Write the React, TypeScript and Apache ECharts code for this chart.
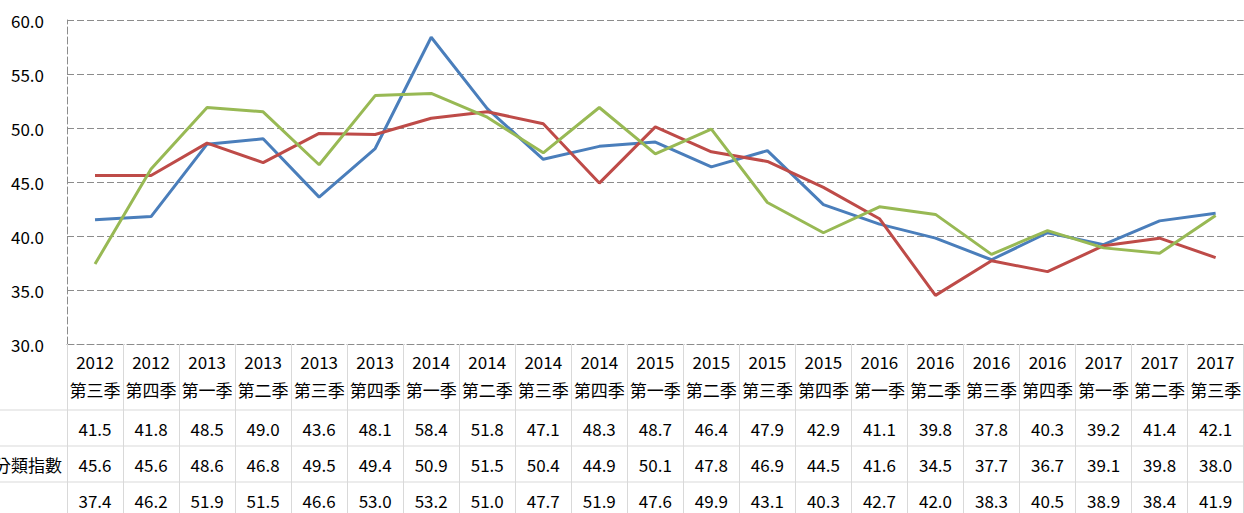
import React, { useEffect, useRef } from "react";
import * as echarts from "echarts";

const years = ["2012","2012","2013","2013","2013","2013","2014","2014","2014","2014","2015","2015","2015","2015","2016","2016","2016","2016","2017","2017","2017"];
const quarters = ["第三季","第四季","第一季","第二季","第三季","第四季","第一季","第二季","第三季","第四季","第一季","第二季","第三季","第四季","第一季","第二季","第三季","第四季","第一季","第二季","第三季"];
const seriesA = [41.5, 41.8, 48.5, 49.0, 43.6, 48.1, 58.4, 51.8, 47.1, 48.3, 48.7, 46.4, 47.9, 42.9, 41.1, 39.8, 37.8, 40.3, 39.2, 41.4, 42.1];
const seriesB = [45.6, 45.6, 48.6, 46.8, 49.5, 49.4, 50.9, 51.5, 50.4, 44.9, 50.1, 47.8, 46.9, 44.5, 41.6, 34.5, 37.7, 36.7, 39.1, 39.8, 38.0];
const seriesC = [37.4, 46.2, 51.9, 51.5, 46.6, 53.0, 53.2, 51.0, 47.7, 51.9, 47.6, 49.9, 43.1, 40.3, 42.7, 42.0, 38.3, 40.5, 38.9, 38.4, 41.9];
const rowLabels = ["", "分類指數", ""];
const colors = ["#4A7EBB", "#BE4B48", "#98B954"];

const FONT = "'Noto Sans CJK TC', 'Open Sans', sans-serif";
const FS = 17;

export default function App() {
  const ref = useRef<HTMLDivElement>(null);
  useEffect(() => {
    document.body.style.margin = "0";
    const chart = echarts.init(ref.current!, null, { renderer: "svg" });
    const cats = years.map((y, i) => y + "\n" + quarters[i]);
    const rows = [seriesA, seriesB, seriesC];
    const rowCenters = [428, 464, 500];
    const plotBottom = 344;
    const valueAxes = rows.map((r, k) => ({
      type: "category",
      gridIndex: 0,
      position: "bottom",
      data: r.map((v) => v.toFixed(1)),
      boundaryGap: true,
      axisLine: { show: false },
      axisTick: { show: false },
      splitLine: { show: false },
      axisLabel: {
        interval: 0,
        margin: rowCenters[k] - 10 - plotBottom,
        fontSize: FS,
        lineHeight: 20,
        color: "#000",
        fontFamily: FONT,
      },
    }));
    chart.setOption({
      animation: false,
      grid: { left: 67, top: 20, width: 1182, height: 324, containLabel: false },
      xAxis: [
        {
          type: "category",
          data: cats,
          boundaryGap: true,
          axisLine: { show: true, lineStyle: { color: "#8c8c8c", type: [7, 3], width: 1 } },
          axisTick: { show: true, interval: 0, length: 170, lineStyle: { color: "#d9d9d9", width: 1 } },
          splitLine: { show: false },
          axisLabel: {
            interval: 0,
            margin: 3,
            fontSize: FS,
            lineHeight: 28,
            color: "#000",
            fontFamily: FONT,
          },
        },
        ...valueAxes,
      ],
      yAxis: {
        type: "value",
        min: 30,
        max: 60,
        interval: 5,
        axisLine: { show: true, lineStyle: { color: "#8c8c8c", type: [7, 3], width: 1 } },
        axisTick: { show: false },
        splitLine: { show: true, lineStyle: { color: "#8c8c8c", type: [7, 3], width: 1 } },
        axisLabel: {
          margin: 23,
          fontSize: FS,
          color: "#000",
          fontFamily: FONT,
          formatter: (v: number) => v.toFixed(1),
        },
      },
      series: rows.map((r, k) => ({
        type: "line",
        data: r,
        xAxisIndex: 0,
        symbol: "none",
        lineStyle: { color: colors[k], width: 3 },
        itemStyle: { color: colors[k] },
      })),
      graphic: [
        ...[410, 446, 482].map((y) => ({
          type: "line",
          shape: { x1: 0, y1: y, x2: 1244, y2: y },
          style: { stroke: "#d9d9d9", lineWidth: 1 },
          silent: true,
        })),
        ...rowLabels.map((t, k) => ({
          type: "text",
          x: 62,
          y: rowCenters[k],
          style: {
            text: t,
            fontSize: FS,
            fill: "#000",
            fontFamily: FONT,
            textAlign: "right",
            textVerticalAlign: "middle",
          },
        })),
      ],
    });
    return () => chart.dispose();
  }, []);
  return <div ref={ref} style={{ width: 1244, height: 513 }} />;
}
